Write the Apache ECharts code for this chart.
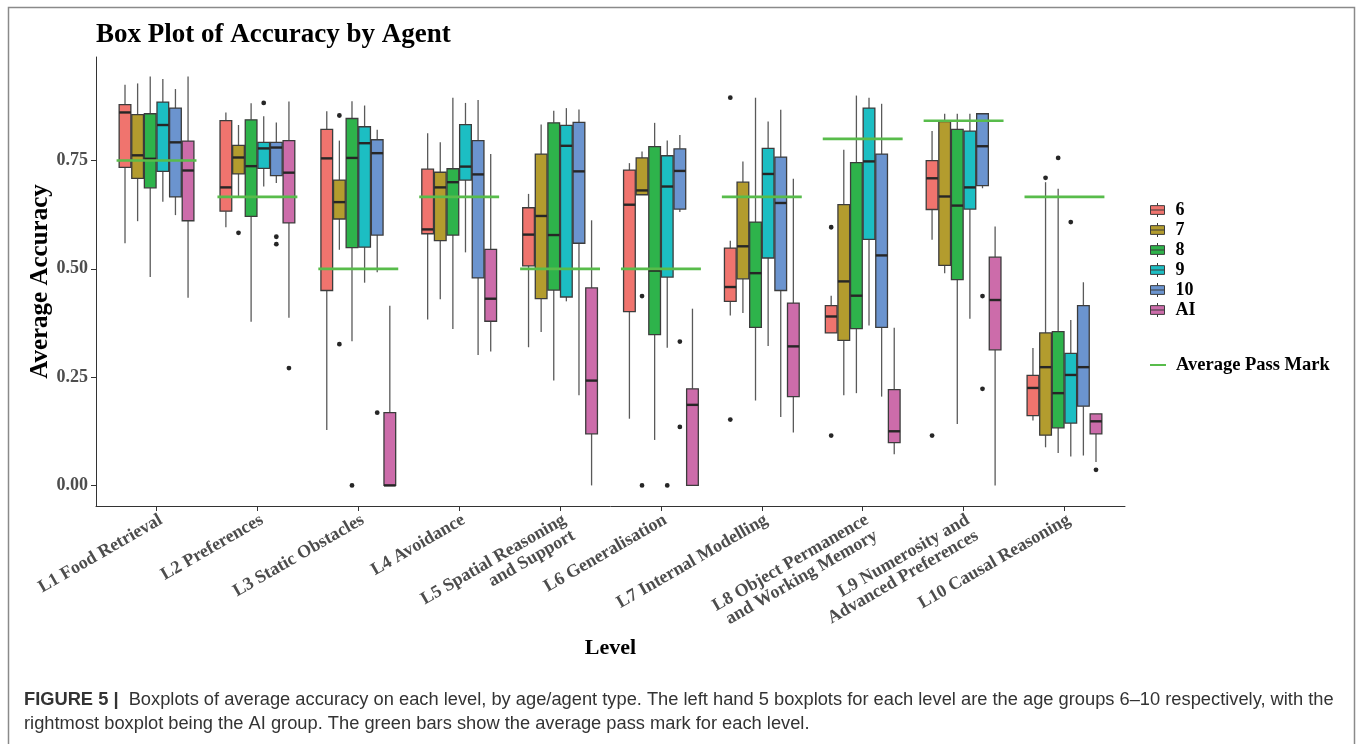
<!DOCTYPE html>
<html><head><meta charset="utf-8">
<script src="https://cdn.jsdelivr.net/npm/echarts@6/dist/echarts.min.js"></script>
<style>html,body{margin:0;padding:0;background:#fff}#c{width:1358px;height:744px}</style>
</head><body><div id="c"></div>
<script>
// ---------- data ----------
const levelLabels = [
  'L1 Food Retrieval', 'L2 Preferences', 'L3 Static Obstacles', 'L4 Avoidance',
  'L5 Spatial Reasoning\nand Support', 'L6 Generalisation', 'L7 Internal Modelling',
  'L8 Object Permanence\nand Working Memory', 'L9 Numerosity and\nAdvanced Preferences',
  'L10 Causal Reasoning'
];
const agents = ['6', '7', '8', '9', '10', 'AI'];
const agentColors = ['#F0746E', '#B39C2E', '#2EB34B', '#1CBEC3', '#6B94CF', '#CC6CAA'];
const yTicks = [0, 0.25, 0.5, 0.75];

// each entry: [min, Q1, median, Q3, max] for levels L1..L10
const box6 = [
  [0.559, 0.734, 0.861, 0.879, 0.925], [0.596, 0.633, 0.688, 0.842, 0.861],
  [0.128, 0.450, 0.755, 0.822, 0.864], [0.383, 0.581, 0.591, 0.730, 0.813],
  [0.319, 0.507, 0.579, 0.641, 0.673], [0.154, 0.401, 0.648, 0.728, 0.744],
  [0.392, 0.425, 0.458, 0.548, 0.565], [0.352, 0.352, 0.390, 0.415, 0.438],
  [0.567, 0.637, 0.709, 0.750, 0.818], [0.150, 0.161, 0.225, 0.254, 0.317]
];
const box7 = [
  [0.610, 0.709, 0.762, 0.856, 0.928], [0.668, 0.719, 0.757, 0.785, 0.832],
  [0.544, 0.615, 0.654, 0.705, 0.796], [0.430, 0.565, 0.688, 0.723, 0.792],
  [0.354, 0.431, 0.622, 0.765, 0.833], [0.671, 0.671, 0.681, 0.756, 0.771],
  [0.398, 0.477, 0.552, 0.700, 0.748], [0.208, 0.335, 0.471, 0.648, 0.775],
  [0.490, 0.508, 0.667, 0.840, 0.858], [0.088, 0.116, 0.273, 0.352, 0.700]
];
const box8 = [
  [0.481, 0.687, 0.754, 0.858, 0.944], [0.378, 0.621, 0.737, 0.844, 0.882],
  [0.333, 0.549, 0.756, 0.847, 0.887], [0.361, 0.578, 0.700, 0.731, 0.895],
  [0.242, 0.451, 0.578, 0.837, 0.865], [0.105, 0.348, 0.496, 0.782, 0.837],
  [0.196, 0.365, 0.490, 0.608, 0.895], [0.213, 0.362, 0.438, 0.745, 0.900],
  [0.142, 0.475, 0.646, 0.822, 0.858], [0.075, 0.133, 0.213, 0.355, 0.685]
];
const box9 = [
  [0.655, 0.725, 0.832, 0.885, 0.938], [0.690, 0.732, 0.778, 0.792, 0.852],
  [0.468, 0.550, 0.790, 0.828, 0.877], [0.538, 0.705, 0.736, 0.833, 0.883],
  [0.425, 0.435, 0.784, 0.831, 0.871], [0.318, 0.481, 0.690, 0.761, 0.796],
  [0.322, 0.525, 0.719, 0.778, 0.840], [0.369, 0.568, 0.748, 0.871, 0.895],
  [0.385, 0.638, 0.688, 0.818, 0.858], [0.067, 0.144, 0.255, 0.305, 0.382]
];
const box10 = [
  [0.624, 0.666, 0.792, 0.871, 0.915], [0.698, 0.715, 0.780, 0.792, 0.838],
  [0.492, 0.578, 0.767, 0.798, 0.821], [0.301, 0.479, 0.718, 0.796, 0.890],
  [0.208, 0.559, 0.725, 0.838, 0.868], [0.631, 0.638, 0.726, 0.777, 0.809],
  [0.158, 0.450, 0.652, 0.758, 0.867], [0.205, 0.365, 0.531, 0.765, 0.881],
  [0.686, 0.692, 0.783, 0.858, 0.858], [0.069, 0.183, 0.273, 0.415, 0.469]
];
const boxAI = [
  [0.433, 0.611, 0.727, 0.795, 0.944], [0.387, 0.606, 0.722, 0.796, 0.886],
  [0.000, 0.000, 0.000, 0.168, 0.415], [0.309, 0.379, 0.431, 0.545, 0.765],
  [0.000, 0.119, 0.242, 0.456, 0.612], [0.000, 0.000, 0.186, 0.223, 0.408],
  [0.122, 0.205, 0.321, 0.421, 0.708], [0.072, 0.099, 0.125, 0.221, 0.364],
  [0.000, 0.313, 0.428, 0.527, 0.598], [0.054, 0.119, 0.148, 0.165, 0.165]
];
const passMark = [0.750, 0.666, 0.500, 0.666, 0.500, 0.500, 0.666, 0.800, 0.842, 0.666];
// outliers: [level number, agent index, value]
const outliers = [
  [2, 1, 0.583], [2, 3, 0.883], [2, 4, 0.574], [2, 4, 0.557], [2, 5, 0.271],
  [3, 1, 0.854], [3, 1, 0.326], [3, 2, 0.000], [3, 4, 0.168],
  [6, 1, 0.437], [6, 1, 0.000], [6, 3, 0.000], [6, 4, 0.332], [6, 4, 0.135],
  [7, 0, 0.895], [7, 0, 0.152],
  [8, 0, 0.596], [8, 0, 0.115],
  [9, 0, 0.115], [9, 4, 0.437], [9, 4, 0.223],
  [10, 1, 0.710], [10, 2, 0.756], [10, 3, 0.608], [10, 5, 0.036]
];
const allBoxes = [box6, box7, box8, box9, box10, boxAI];

// ---------- layout constants (fractions of one level unit) ----------
const SLOT = 0.125, BOXW = 0.116, PASS_HALF = 0.396;
const SERIF = '"Liberation Serif","Times New Roman",serif';
const CAPFONT = '"Liberation Sans Narrow","Arial Narrow","Liberation Sans",sans-serif';

function boxRender(k) {
  return function (params, api) {
    const lvl = api.value(0);
    const unit = api.size([1, 0])[0];
    const off = (k - 2.5) * SLOT * unit;
    const hw = BOXW * unit / 2;
    const pMin = api.coord([lvl, api.value(1)]);
    const pQ1 = api.coord([lvl, api.value(2)]);
    const pMed = api.coord([lvl, api.value(3)]);
    const pQ3 = api.coord([lvl, api.value(4)]);
    const pMax = api.coord([lvl, api.value(5)]);
    const x = pMin[0] + off;
    const wStyle = { stroke: '#5a5a5a', lineWidth: 1.3 };
    return {
      type: 'group', children: [
        { type: 'line', shape: { x1: x, y1: pQ3[1], x2: x, y2: pMax[1] }, style: wStyle },
        { type: 'line', shape: { x1: x, y1: pQ1[1], x2: x, y2: pMin[1] }, style: wStyle },
        { type: 'rect', shape: { x: x - hw, y: pQ3[1], width: 2 * hw, height: Math.max(pQ1[1] - pQ3[1], 0.5) },
          style: { fill: agentColors[k], stroke: '#3c3c3c', lineWidth: 1.3 } },
        { type: 'line', shape: { x1: x - hw, y1: pMed[1], x2: x + hw, y2: pMed[1] },
          style: { stroke: '#262626', lineWidth: 2.4 } }
      ]
    };
  };
}

const series = agents.map((name, k) => ({
  name: name,
  type: 'custom',
  renderItem: boxRender(k),
  itemStyle: { color: agentColors[k] },
  encode: { x: 0, y: [1, 2, 3, 4, 5] },
  data: allBoxes[k].map((b, i) => [i + 1].concat(b)),
  z: 2
}));

series.push({
  name: 'outliers',
  type: 'custom',
  renderItem: function (params, api) {
    const unit = api.size([1, 0])[0];
    const p = api.coord([api.value(0), api.value(2)]);
    const off = (api.value(1) - 2.5) * SLOT * unit;
    return { type: 'circle', shape: { cx: p[0] + off, cy: p[1], r: 2.4 }, style: { fill: '#262626' } };
  },
  encode: { x: 0, y: 2 },
  data: outliers,
  z: 3
});

series.push({
  name: 'Average Pass Mark',
  type: 'custom',
  itemStyle: { color: '#58BC4B' },
  renderItem: function (params, api) {
    const unit = api.size([1, 0])[0];
    const p = api.coord([api.value(0), api.value(1)]);
    return { type: 'line', shape: { x1: p[0] - PASS_HALF * unit, y1: p[1], x2: p[0] + PASS_HALF * unit, y2: p[1] },
      style: { stroke: '#58BC4B', lineWidth: 2.6 } };
  },
  encode: { x: 0, y: 1 },
  data: passMark.map((v, i) => [i + 1, v]),
  z: 4
});

const levelTicks = levelLabels.map((_, i) => i + 1);
const boxIcon = 'path://M0,3H16V13H0Z M0,8H16 M8,0V3 M8,13V16';

const option = {
  backgroundColor: '#fff',
  animation: false,
  title: {
    text: 'Box Plot of Accuracy by Agent',
    left: 96, top: 22, padding: 0,
    textStyle: { fontFamily: SERIF, fontWeight: 'bold', fontSize: 27, color: '#000' }
  },
  grid: { left: 96, right: 233, top: 57, bottom: 238, containLabel: false, outerBoundsMode: 'none' },
  legend: [
    {
      orient: 'vertical', left: 1145, top: 195, itemGap: 0, itemWidth: 16, itemHeight: 14,
      selectedMode: false,
      data: agents.map(a => ({ name: a, icon: boxIcon, itemStyle: { borderColor: '#3c3c3c', borderWidth: 1 } })),
      textStyle: { fontFamily: SERIF, fontWeight: 'bold', fontSize: 18, color: '#000', lineHeight: 20, padding: [0, 0, 0, 5] }
    },
    {
      orient: 'vertical', left: 1145, top: 350, itemWidth: 16, itemHeight: 2, selectedMode: false,
      data: [{ name: 'Average Pass Mark', icon: 'rect' }],
      textStyle: { fontFamily: SERIF, fontWeight: 'bold', fontSize: 18.5, color: '#000', lineHeight: 20, padding: [0, 0, 0, 5] }
    }
  ],
  xAxis: {
    type: 'value', min: 0.4, max: 10.6,
    name: 'Level', nameLocation: 'middle', nameGap: 127,
    nameTextStyle: { fontFamily: SERIF, fontWeight: 'bold', fontSize: 22, color: '#000' },
    axisLine: { show: true, onZero: false, lineStyle: { color: '#333', width: 1 } },
    axisTick: { show: true, customValues: levelTicks, length: 5, lineStyle: { color: '#333' } },
    axisLabel: {
      customValues: levelTicks, rotate: 30, margin: 5,
      align: 'right', verticalAlign: 'top',
      formatter: v => levelLabels[Math.round(v) - 1],
      fontFamily: SERIF, fontWeight: 'bold', fontSize: 18, color: '#4d4d4d', lineHeight: 18
    },
    splitLine: { show: false }
  },
  yAxis: {
    type: 'value', min: -0.0475, max: 0.989,
    name: 'Average Accuracy', nameLocation: 'middle', nameGap: 43, nameMoveOverlap: false,
    nameTextStyle: { fontFamily: SERIF, fontWeight: 'bold', fontSize: 25, color: '#000' },
    axisLine: { show: true, onZero: false, lineStyle: { color: '#333', width: 1 } },
    axisTick: { show: true, customValues: yTicks, length: 5, lineStyle: { color: '#333' } },
    axisLabel: {
      customValues: yTicks, margin: 8,
      formatter: v => v.toFixed(2),
      fontFamily: SERIF, fontWeight: 'bold', fontSize: 18, color: '#4d4d4d'
    },
    splitLine: { show: false }
  },
  graphic: [
    { type: 'rect', shape: { x: 8.5, y: 7.5, width: 1346, height: 760 }, style: { fill: null, stroke: '#8a8a8a', lineWidth: 1.5 }, silent: true, z: -1 },
    {
      type: 'text', left: 24, top: 688,
      style: {
        text: '{b|FIGURE 5 |}  Boxplots of average accuracy on each level, by age/agent type. The left hand 5 boxplots for each level are the age groups 6–10 respectively, with the\nrightmost boxplot being the AI group. The green bars show the average pass mark for each level.',
        font: '18.3px ' + CAPFONT,
        fill: '#333', lineHeight: 24,
        rich: { b: { fontWeight: 'bold', fontFamily: CAPFONT, fontSize: 18.3, fill: '#333' } }
      }
    }
  ],
  series: series
};

const chart = echarts.init(document.getElementById('c'), null, { renderer: 'canvas' });
chart.setOption(option);
</script>
</body></html>
